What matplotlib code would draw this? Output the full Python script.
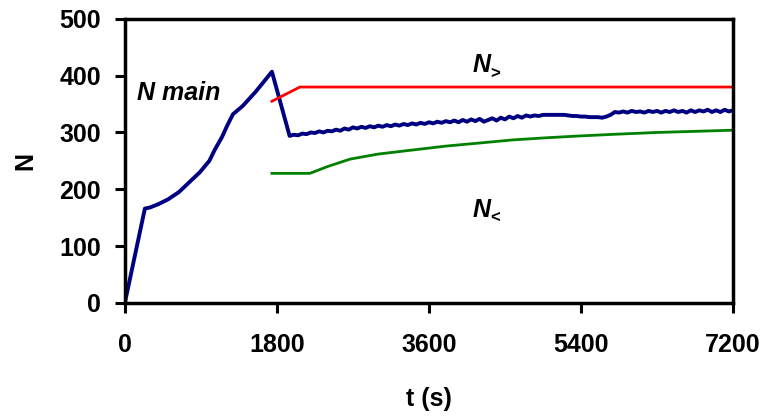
import numpy as np
import matplotlib.pyplot as plt

plt.rcParams['font.family'] = ['Liberation Sans', 'DejaVu Sans']
plt.rcParams['font.weight'] = 'bold'

# N main: ramp-up phase
t_ramp = [0, 237, 300, 400, 509, 640, 746, 888, 1000, 1066, 1150, 1208, 1279, 1397, 1550, 1741]
n_ramp = [0, 166, 168, 174, 182, 195, 210, 230, 250, 270, 292, 311, 332, 347, 372, 407]

# N main: after the drop, sampled every 50 s from 1950 s to 7200 s
n_tail = [294, 296, 295, 298, 297, 300, 299, 302, 300, 303, 302, 305, 303, 307, 305,
          309, 307, 310, 308, 311, 309, 312, 310, 313, 311, 314, 312, 315, 313, 316,
          314, 317, 315, 318, 316, 319, 317, 320, 318, 321, 318, 322, 319, 323, 320,
          324, 319, 322, 325, 321, 326, 323, 328, 325, 329, 326, 330, 328, 330, 329,
          331, 331, 331, 331, 331, 331, 330, 329, 329, 328, 328, 327, 327, 327, 326,
          328, 331, 336, 335, 337, 335, 338, 336, 337, 335, 338, 336, 338, 335, 338,
          336, 339, 336, 338, 335, 339, 336, 339, 337, 340, 336, 339, 336, 340, 337,
          339]
t_tail = np.linspace(1950, 7200, len(n_tail))

# N> and N<
t_upper = [1741, 2072, 7200]
n_upper = [355, 380, 380]
t_lower = [1741, 2190, 2400, 2664, 3000, 3458, 3800, 4240, 4600, 5030, 5400, 5825, 6300, 7200]
n_lower = [228, 228, 240, 253, 262, 270, 276, 282, 287, 291, 294, 297, 300, 304]

t_main = list(t_ramp) + list(t_tail)
n_main = list(n_ramp) + list(n_tail)

fig = plt.figure(figsize=(7.66, 4.2), dpi=100)
ax = fig.add_axes([0.163, 0.279, 0.794, 0.676])

ax.plot(t_main, n_main, color='#000080', lw=2.8)
ax.plot(t_upper, n_upper, color='#ff0000', lw=2.0)
ax.plot(t_lower, n_lower, color='#008000', lw=2.0)

ax.set_xlim(0, 7200)
ax.set_ylim(0, 500)
ax.set_xticks([0, 1800, 3600, 5400, 7200])
ax.set_yticks([0, 100, 200, 300, 400, 500])
for s in ax.spines.values():
    s.set_linewidth(2.5)
ax.tick_params(axis='both', width=2.2, length=7, labelsize=18)
ax.tick_params(axis='x', pad=15)
ax.tick_params(axis='y', pad=10)

ax.set_xlabel('t (s)', fontsize=18, fontweight='bold', labelpad=21)
ax.set_ylabel('N', fontsize=18, fontweight='bold', labelpad=16)

ax.text(142, 369, 'N main', fontsize=18, fontweight='bold', fontstyle='italic', va='center')

# curve names with a small subscript sign after the N
for y, sign in [(406, '>'), (152, '<')]:
    ax.text(4121, y, 'N', fontsize=18, fontweight='bold', fontstyle='italic', va='baseline')
    ax.annotate(sign, (4121, y), xytext=(12.5, -4), textcoords='offset points',
                fontsize=12, fontweight='bold', va='baseline')

fig.savefig('out.png', dpi=100)
